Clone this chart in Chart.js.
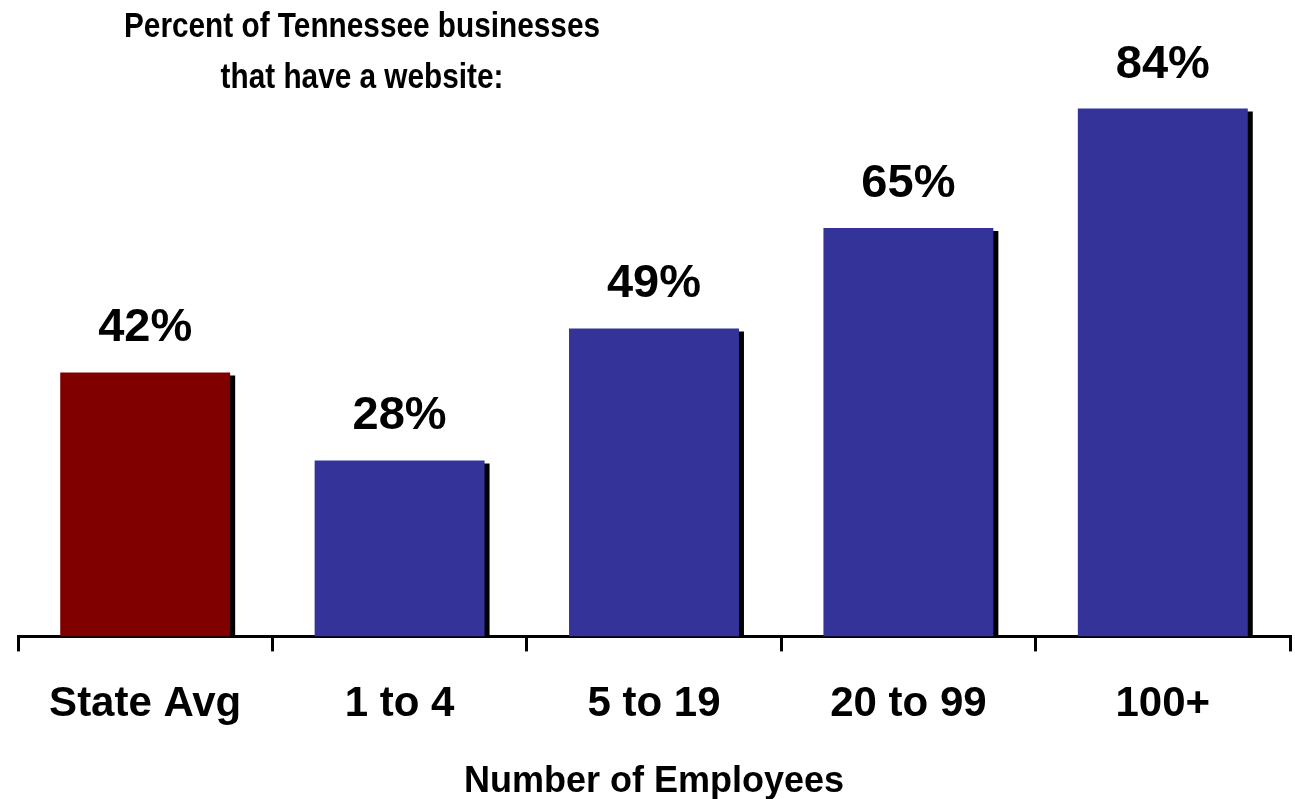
<!DOCTYPE html>
<html>
<head>
<meta charset="utf-8">
<script src="https://cdn.jsdelivr.net/npm/chart.js@4.4.1/dist/chart.umd.min.js"></script>
<style>
  html, body { margin: 0; padding: 0; background: #ffffff; }
  #wrap { width: 1295px; height: 799px; position: relative; }
</style>
</head>
<body>
<div id="wrap"><canvas id="c"></canvas></div>
<script>
const categories = ["State Avg", "1 to 4", "5 to 19", "20 to 99", "100+"];
const percentValues = [42, 28, 49, 65, 84];
const barColors = ["#800000", "#333399", "#333399", "#333399", "#333399"];
const titleLines = ["Percent of Tennessee businesses", "that have a website:"];
const xAxisTitle = "Number of Employees";

const shadowPlugin = {
  id: 'barShadow',
  beforeDatasetsDraw(chart) {
    const ctx = chart.ctx;
    ctx.save();
    ctx.shadowColor = '#000000';
    ctx.shadowBlur = 0;
    ctx.shadowOffsetX = 5;
    ctx.shadowOffsetY = 3;
  },
  afterDatasetsDraw(chart) {
    chart.ctx.restore();
  }
};

const labelPlugin = {
  id: 'valueLabels',
  afterDatasetsDraw(chart) {
    const ctx = chart.ctx;
    const meta = chart.getDatasetMeta(0);
    ctx.save();
    ctx.shadowColor = 'transparent';
    ctx.fillStyle = '#000000';
    ctx.font = "bold 47px 'Liberation Sans', Arial, sans-serif";
    ctx.textAlign = 'center';
    ctx.textBaseline = 'alphabetic';
    meta.data.forEach((bar, i) => {
      ctx.fillText(percentValues[i] + '%', bar.x, bar.y - 31);
    });
    ctx.restore();
  }
};

const titlePlugin = {
  id: 'leftTitle',
  afterDraw(chart) {
    const ctx = chart.ctx;
    ctx.save();
    ctx.fillStyle = '#000000';
    ctx.font = "bold 35px 'Liberation Sans', Arial, sans-serif";
    ctx.textAlign = 'center';
    ctx.textBaseline = 'alphabetic';
    const cx = 362;
    const baselines = [37, 88];
    const s = Math.min(1, 476 / ctx.measureText(titleLines[0]).width);
    titleLines.forEach((t, i) => {
      ctx.save();
      ctx.translate(cx, baselines[i]);
      ctx.scale(s, 1);
      ctx.fillText(t, 0, 0);
      ctx.restore();
    });
    ctx.restore();
  }
};

new Chart(document.getElementById('c'), {
  type: 'bar',
  data: {
    labels: categories,
    datasets: [{
      data: percentValues,
      backgroundColor: barColors,
      borderWidth: 0,
      barPercentage: 0.668,
      categoryPercentage: 1.0
    }]
  },
  options: {
    responsive: true,
    maintainAspectRatio: false,
    animation: false,
    devicePixelRatio: 1,
    layout: { padding: { top: 8, left: 18, right: 5, bottom: 0 } },
    plugins: {
      legend: { display: false },
      tooltip: { enabled: false },
      title: { display: false }
    },
    scales: {
      x: {
        z: 1,
        grid: {
          display: true,
          drawOnChartArea: false,
          drawTicks: true,
          tickLength: 15,
          color: '#000000',
          lineWidth: 3,
          offset: true
        },
        border: { display: true, color: '#000000', width: 3 },
        ticks: {
          color: '#000000',
          padding: 28,
          font: { family: "'Liberation Sans', Arial, sans-serif", size: 42, weight: 'bold' }
        },
        title: {
          display: true,
          text: xAxisTitle,
          color: '#000000',
          padding: { top: 3, bottom: -5 },
          font: { family: "'Liberation Sans', Arial, sans-serif", size: 36, weight: 'bold' }
        }
      },
      y: {
        display: false,
        min: 0,
        max: 100
      }
    }
  },
  plugins: [shadowPlugin, labelPlugin, titlePlugin]
});
</script>
</body>
</html>
